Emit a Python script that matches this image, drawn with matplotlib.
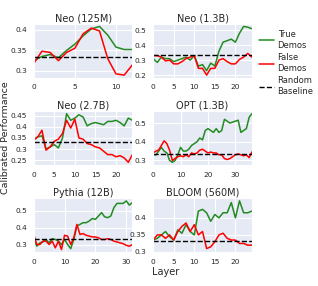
import numpy as np
import matplotlib
matplotlib.use("Agg")
import matplotlib.pyplot as plt
import seaborn as sns

sns.set_style("darkgrid", {"axes.facecolor": "#e5eaf5", "grid.color": "white"})
plt.rcParams["font.family"] = ["DejaVu Sans"]

# ---------------------------------------------------------------------------
# Data
# ---------------------------------------------------------------------------
titles = ["Neo (125M)", "Neo (1.3B)", "Neo (2.7B)", "OPT (1.3B)", "Pythia (12B)", "BLOOM (560M)"]
baseline = 1 / 3

neo125_true = [0.325, 0.335, 0.34, 0.332, 0.35, 0.365, 0.385, 0.402, 0.408, 0.387, 0.358, 0.352, 0.352]
neo125_false = [0.318, 0.348, 0.345, 0.325, 0.345, 0.355, 0.39, 0.404, 0.397, 0.33, 0.293, 0.29, 0.315]

neo13_true = [0.31, 0.285, 0.32, 0.31, 0.31, 0.29, 0.30, 0.31, 0.32, 0.30, 0.33, 0.26, 0.27,
              0.23, 0.28, 0.26, 0.36, 0.42, 0.43, 0.44, 0.42, 0.48, 0.525, 0.52, 0.51]
neo13_false = [0.33, 0.33, 0.32, 0.295, 0.30, 0.275, 0.275, 0.29, 0.31, 0.32, 0.33, 0.245, 0.245,
               0.20, 0.245, 0.245, 0.30, 0.31, 0.29, 0.275, 0.275, 0.305, 0.32, 0.345, 0.32]

neo27_true = [0.345, 0.355, 0.36, 0.30, 0.31, 0.32, 0.305, 0.35, 0.46, 0.43, 0.44, 0.455, 0.445,
              0.405, 0.415, 0.42, 0.415, 0.41, 0.425, 0.425, 0.43, 0.42, 0.405, 0.44, 0.43]
neo27_false = [0.34, 0.355, 0.385, 0.295, 0.31, 0.335, 0.345, 0.37, 0.43, 0.395, 0.435, 0.35, 0.345,
               0.325, 0.32, 0.31, 0.305, 0.29, 0.275, 0.275, 0.265, 0.27, 0.26, 0.24, 0.275]

opt_true = [0.33, 0.33, 0.35, 0.37, 0.35, 0.34, 0.30, 0.29, 0.30, 0.33, 0.37, 0.35, 0.35, 0.36,
            0.38, 0.39, 0.40, 0.42, 0.41, 0.46, 0.47, 0.46, 0.45, 0.47, 0.45, 0.46, 0.52, 0.51,
            0.50, 0.505, 0.51, 0.515, 0.45, 0.46, 0.47, 0.53, 0.55]
opt_false = [0.34, 0.35, 0.355, 0.38, 0.405, 0.39, 0.355, 0.30, 0.31, 0.32, 0.325, 0.32, 0.33,
             0.32, 0.34, 0.335, 0.34, 0.355, 0.36, 0.35, 0.34, 0.345, 0.34, 0.34, 0.33, 0.33,
             0.31, 0.305, 0.31, 0.32, 0.33, 0.335, 0.33, 0.325, 0.33, 0.315, 0.345]

pythia_true = [0.33, 0.29, 0.31, 0.315, 0.33, 0.31, 0.335, 0.33, 0.32, 0.30, 0.33, 0.30, 0.275,
               0.33, 0.41, 0.42, 0.43, 0.43, 0.44, 0.455, 0.45, 0.47, 0.49, 0.465, 0.46, 0.47,
               0.52, 0.545, 0.545, 0.545, 0.56, 0.535, 0.55]
pythia_false = [0.36, 0.30, 0.30, 0.32, 0.32, 0.30, 0.32, 0.28, 0.32, 0.27, 0.355, 0.35, 0.30,
                0.34, 0.42, 0.36, 0.365, 0.355, 0.35, 0.345, 0.345, 0.34, 0.33, 0.33, 0.335,
                0.33, 0.32, 0.315, 0.31, 0.305, 0.295, 0.29, 0.30]

bloom_true = [0.335, 0.34, 0.35, 0.36, 0.345, 0.335, 0.365, 0.355, 0.38, 0.36, 0.35, 0.42, 0.425,
              0.415, 0.39, 0.41, 0.40, 0.415, 0.415, 0.445, 0.40, 0.45, 0.415, 0.415, 0.42]
bloom_false = [0.335, 0.35, 0.35, 0.34, 0.35, 0.335, 0.36, 0.375, 0.385, 0.36, 0.38, 0.35, 0.36,
               0.31, 0.315, 0.33, 0.35, 0.355, 0.34, 0.335, 0.335, 0.325, 0.325, 0.32, 0.32]

true_series = [neo125_true, neo13_true, neo27_true, opt_true, pythia_true, bloom_true]
false_series = [neo125_false, neo13_false, neo27_false, opt_false, pythia_false, bloom_false]

xticks = [[0, 5, 10], [0, 5, 10, 15, 20], [0, 5, 10, 15, 20],
          [0, 10, 20, 30], [0, 10, 20, 30], [0, 5, 10, 15, 20]]
yticks = [[0.3, 0.35, 0.4], [0.2, 0.3, 0.4, 0.5], [0.25, 0.3, 0.35, 0.4, 0.45],
          [0.3, 0.4, 0.5], [0.3, 0.4, 0.5], [0.3, 0.35, 0.4]]

# ---------------------------------------------------------------------------
# Figure
# ---------------------------------------------------------------------------
fig, axes = plt.subplots(3, 2, figsize=(3.18, 2.86), dpi=100)
fig.subplots_adjust(left=0.106, right=0.792, bottom=0.119, top=0.916,
                    wspace=0.21, hspace=0.63)

for ax, title, yt, yf, xt, ytk in zip(axes.flat, titles, true_series, false_series, xticks, yticks):
    x = np.arange(len(yt))
    ax.plot(x, yt, color="forestgreen", lw=1.1)
    ax.plot(x, yf, color="red", lw=1.1)
    ax.axhline(baseline, color="black", ls="--", lw=1.0)
    ax.set_xlim(0, len(yt) - 1)
    ax.set_xticks(xt)
    ax.set_yticks(ytk)
    ax.yaxis.set_major_formatter(matplotlib.ticker.FormatStrFormatter("%g"))
    ax.set_title(title, fontsize=7, pad=2)
    ax.tick_params(labelsize=5.3, pad=1.5, colors="#262626")

handles = [
    plt.Line2D([], [], color="forestgreen", lw=1.1),
    plt.Line2D([], [], color="red", lw=1.1),
    plt.Line2D([], [], color="black", ls="--", lw=1.0),
]
fig.legend(handles, ["True\nDemos", "False\nDemos", "Random\nBaseline"],
           loc="upper left", bbox_to_anchor=(0.797, 0.915), frameon=False,
           fontsize=6, handlelength=1.8, labelspacing=0.45, borderpad=0.2,
           handletextpad=0.4)

fig.text(0.018, 0.52, "Calibrated Performance", rotation=90, ha="center", va="center", fontsize=6.8)
fig.text(0.52, 0.048, "Layer", ha="center", va="center", fontsize=7)

fig.savefig("out.png", dpi=100)
